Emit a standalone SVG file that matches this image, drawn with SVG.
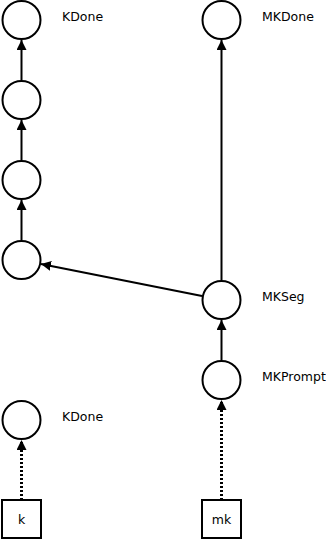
<svg xmlns="http://www.w3.org/2000/svg" width="326" height="542" viewBox="0 0 326 542">
<style>
.n{fill:#fff;stroke:#000;stroke-width:2}
.e{fill:none;stroke:#000;stroke-width:2}
.d{stroke-dasharray:2,2;stroke-width:3}
text{font-family:"DejaVu Sans",sans-serif;font-size:12.5px;fill:#000}
.c{text-anchor:middle}
</style>
<defs>
<marker id="a" markerWidth="10" markerHeight="10" refX="10" refY="5" orient="auto" markerUnits="userSpaceOnUse">
<path d="M0,0L10,5L0,10Z" fill="#000"/>
</marker>
</defs>
<rect width="326" height="542" fill="#fff"/>
<g id="edges">
<path class="e" d="M21.5,80V40" marker-end="url(#a)"/>
<path class="e" d="M21.5,160V120" marker-end="url(#a)"/>
<path class="e" d="M21.5,240V200" marker-end="url(#a)"/>
<path class="e" d="M221.5,280V40" marker-end="url(#a)"/>
<path class="e" d="M221.5,360V320" marker-end="url(#a)"/>
<path class="e" d="M202,296L41,264" marker-end="url(#a)"/>
<path class="e d" d="M21.5,500V440" marker-end="url(#a)"/>
<path class="e d" d="M221.5,500V400" marker-end="url(#a)"/>
</g>
<g id="kdone1"><circle class="n" cx="21.5" cy="20" r="19"/><text x="62" y="21">KDone</text></g>
<g id="k3"><circle class="n" cx="21.5" cy="100" r="19"/></g>
<g id="k2"><circle class="n" cx="21.5" cy="180" r="19"/></g>
<g id="k1"><circle class="n" cx="21.5" cy="260" r="19"/></g>
<g id="mkdone"><circle class="n" cx="221.5" cy="20" r="19"/><text x="262" y="21">MKDone</text></g>
<g id="mkseg"><circle class="n" cx="221.5" cy="300" r="19"/><text x="262" y="301">MKSeg</text></g>
<g id="mkprompt"><circle class="n" cx="221.5" cy="380" r="19"/><text x="262" y="381">MKPrompt</text></g>
<g id="kdone2"><circle class="n" cx="21.5" cy="420" r="19"/><text x="62" y="421">KDone</text></g>
<g id="k"><rect class="n" x="2" y="500" width="39" height="38"/><text class="c" x="21.5" y="524">k</text></g>
<g id="mk"><rect class="n" x="202" y="500" width="39" height="38"/><text class="c" x="221.5" y="524">mk</text></g>
</svg>
